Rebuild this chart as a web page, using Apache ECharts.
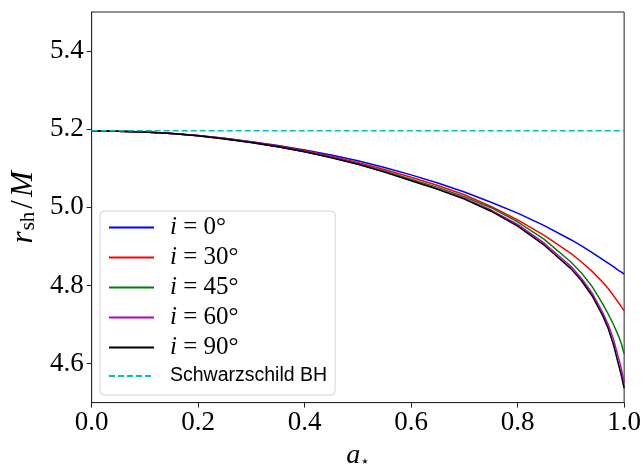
<!DOCTYPE html>
<html>
<head>
<meta charset="utf-8">
<script src="https://cdn.jsdelivr.net/npm/echarts@6/dist/echarts.min.js"></script>
<style>
html,body{margin:0;padding:0;background:#fff;}
#chart{width:644px;height:475px;}
</style>
</head>
<body>
<div id="chart"></div>
<script>
// spin parameter a_star
const spin = [0, 0.05, 0.1, 0.15, 0.2, 0.25, 0.3, 0.35, 0.4, 0.45, 0.5, 0.55, 0.6, 0.65, 0.7, 0.75, 0.8, 0.85, 0.9,
              0.92, 0.94, 0.96, 0.97, 0.98, 0.99, 0.995, 1.0];
// shadow radius r_sh/M for each inclination
const incl0  = [5.196, 5.195, 5.193, 5.189, 5.184, 5.177, 5.168, 5.158, 5.147, 5.134, 5.119, 5.102, 5.083, 5.062, 5.039, 5.013, 4.985, 4.953, 4.917,
                4.901, 4.884, 4.866, 4.857, 4.848, 4.838, 4.834, 4.829];
const incl30 = [5.196, 5.195, 5.193, 5.189, 5.184, 5.176, 5.167, 5.157, 5.145, 5.131, 5.115, 5.097, 5.077, 5.056, 5.032, 5.002, 4.968, 4.928, 4.882,
                4.860, 4.836, 4.808, 4.792, 4.774, 4.755, 4.745, 4.735];
const incl45 = [5.196, 5.195, 5.193, 5.189, 5.183, 5.176, 5.166, 5.155, 5.143, 5.129, 5.112, 5.093, 5.072, 5.051, 5.027, 4.999, 4.963, 4.918, 4.860,
                4.832, 4.797, 4.752, 4.727, 4.700, 4.669, 4.650, 4.624];
const incl60 = [5.196, 5.195, 5.193, 5.189, 5.183, 5.175, 5.166, 5.155, 5.142, 5.128, 5.111, 5.091, 5.069, 5.047, 5.023, 4.993, 4.956, 4.908, 4.849,
                4.818, 4.780, 4.730, 4.700, 4.662, 4.612, 4.585, 4.552];
const incl90 = [5.196, 5.195, 5.193, 5.189, 5.183, 5.175, 5.166, 5.155, 5.142, 5.127, 5.110, 5.090, 5.068, 5.046, 5.021, 4.990, 4.952, 4.903, 4.843,
                4.812, 4.773, 4.722, 4.690, 4.648, 4.595, 4.568, 4.537];
const schwX = [0, 1];
const schwY = [5.196, 5.196];

const seriesNames = ['i0', 'i30', 'i45', 'i60', 'i90', 'schw'];
const legendLabels = {
  i0: '{it|i}{m| = 0°}', i30: '{it|i}{m| = 30°}', i45: '{it|i}{m| = 45°}',
  i60: '{it|i}{m| = 60°}', i90: '{it|i}{m| = 90°}', schw: '{sf|Schwarzschild BH}'
};
const xTicks = [0, 0.2, 0.4, 0.6, 0.8, 1.0];
const yTicks = [4.6, 4.8, 5.0, 5.2, 5.4];

const zip = (xs, ys) => xs.map((x, k) => [x, ys[k]]);
const serif = 'Liberation Serif';

function lineSeries(name, ys, color, xs, dashed) {
  return {
    name: name, type: 'line', data: zip(xs || spin, ys),
    showSymbol: false, symbol: 'none', smooth: false,
    lineStyle: { color: color, width: 1.5, type: dashed ? [6, 3] : 'solid' },
    itemStyle: { color: color },
    animation: false
  };
}

const chart = echarts.init(document.getElementById('chart'), null, { renderer: 'canvas' });
chart.setOption({
  backgroundColor: '#fff',
  animation: false,
  grid: { left: 89, right: 18, top: 12, bottom: 66, show: true, borderColor: '#222', borderWidth: 1, containLabel: false },
  xAxis: {
    type: 'value', min: 0, max: 1, interval: 0.2,
    name: '{i|a}{s|⋆}', nameLocation: 'middle', nameGap: 37,
    nameTextStyle: { rich: {
      i: { fontFamily: serif, fontStyle: 'italic', fontSize: 28, color: '#000' },
      s: { fontFamily: 'DejaVu Sans', fontSize: 15, color: '#000', padding: [14, 0, 0, 0] }
    } },
    axisLine: { show: true, lineStyle: { color: '#222', width: 1 } },
    axisTick: { show: true, inside: false, length: 5, lineStyle: { color: '#222' } },
    axisLabel: { margin: 7, fontFamily: serif, fontSize: 27, color: '#000',
      formatter: v => v.toFixed(1) },
    splitLine: { show: false }
  },
  yAxis: {
    type: 'value', min: 4.5, max: 5.5,
    name: '{i|r}{s|sh}{n|/}{i|M}', nameLocation: 'middle', nameGap: 49, nameRotate: 90,
    nameTextStyle: { rich: {
      i: { fontFamily: serif, fontStyle: 'italic', fontSize: 31, color: '#000' },
      n: { fontFamily: serif, fontSize: 31, color: '#000', padding: [0, 3, 0, 3] },
      s: { fontFamily: serif, fontSize: 21, color: '#000', padding: [10, 0, 0, 1] }
    } },
    axisLine: { show: true, lineStyle: { color: '#222', width: 1 } },
    axisTick: { show: true, inside: false, length: 5, customValues: yTicks, lineStyle: { color: '#222' } },
    axisLabel: { margin: 8, fontFamily: serif, fontSize: 27, color: '#000', customValues: yTicks,
      formatter: v => v.toFixed(1) },
    splitLine: { show: false }
  },
  legend: {
    orient: 'vertical', left: 100, top: 211,
    data: seriesNames,
    itemWidth: 45, itemHeight: 14, itemGap: 5,
    padding: [4, 8, 8, 8],
    backgroundColor: 'rgba(255,255,255,0.8)',
    borderColor: '#d4d4d4', borderWidth: 1, borderRadius: 4,
    itemStyle: { opacity: 0 },
    formatter: n => legendLabels[n],
    textStyle: {
      padding: [0, 0, 0, 11],
      lineHeight: 22,
      rich: {
        it: { fontFamily: serif, fontStyle: 'italic', fontSize: 25, color: '#000', lineHeight: 22 },
        m: { fontFamily: serif, fontSize: 25, color: '#000', lineHeight: 22 },
        sf: { fontFamily: 'Liberation Sans', fontSize: 19.5, color: '#000', lineHeight: 22 }
      },
      fontFamily: serif, fontSize: 22, color: '#000'
    }
  },
  series: [
    lineSeries('i0', incl0, '#0000ff'),
    lineSeries('i30', incl30, '#ff0000'),
    lineSeries('i45', incl45, '#008000'),
    lineSeries('i60', incl60, '#bf00bf'),
    lineSeries('i90', incl90, '#000000'),
    lineSeries('schw', schwY, '#00bfbf', schwX, true)
  ]
});
</script>
</body>
</html>
